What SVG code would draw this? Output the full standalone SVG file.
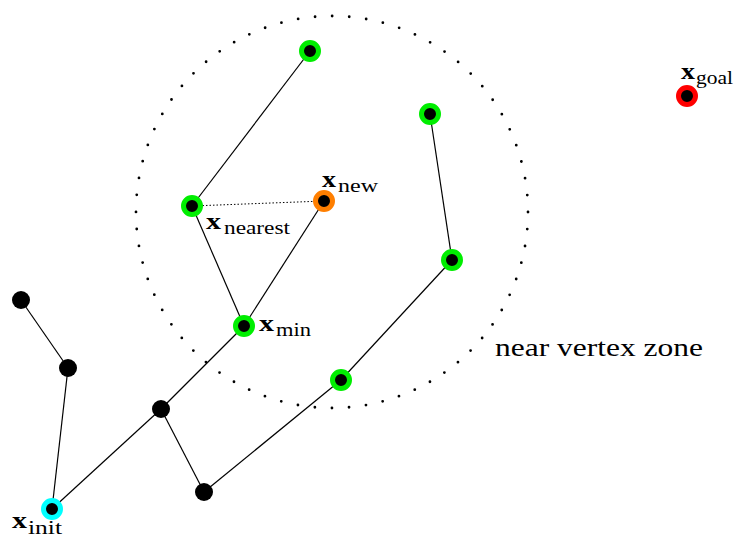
<svg xmlns="http://www.w3.org/2000/svg" width="738" height="540" viewBox="0 0 738 540">
<style>
.e{stroke:#000;stroke-width:1.2;fill:none}
.lx{font-weight:bold;font-size:23px}
.ls{font-weight:normal;font-size:19px}
.t{font-size:25px}
</style>
<rect width="738" height="540" fill="#fff"/>
<circle cx="332" cy="212" r="196" fill="none" stroke="#000" stroke-width="2.8" stroke-linecap="round" stroke-dasharray="0 17.1"/>
<g id="connectors">
<line class="e" x1="310" y1="51" x2="192" y2="206"/>
<line class="e" x1="192" y1="206" x2="244" y2="326"/>
<line class="e" x1="324" y1="201" x2="244" y2="326"/>
<line class="e" x1="244" y1="326" x2="161" y2="409"/>
<line class="e" x1="430" y1="114" x2="452" y2="260"/>
<line class="e" x1="452" y1="260" x2="341" y2="380"/>
<line class="e" x1="341" y1="380" x2="204" y2="492"/>
<line class="e" x1="204" y1="492" x2="161" y2="409"/>
<line class="e" x1="161" y1="409" x2="52" y2="509"/>
<line class="e" x1="52" y1="509" x2="68" y2="368"/>
<line class="e" x1="68" y1="368" x2="21" y2="300"/>
<line x1="192" y1="206" x2="324" y2="201" stroke="#000" stroke-width="1" stroke-dasharray="1.5 2"/>
</g>
<g font-family="'Liberation Serif','Times New Roman','DejaVu Serif',serif">
<g id="nA"><circle cx="310" cy="51" r="8.5" fill="#000" stroke="#00ee00" stroke-width="5"/></g>
<g id="nB"><circle cx="430" cy="114" r="8.5" fill="#000" stroke="#00ee00" stroke-width="5"/></g>
<g id="nGoal"><circle cx="687" cy="96" r="8.5" fill="#000" stroke="#f00" stroke-width="5"/><text class="lx" x="681" y="79" textLength="14" lengthAdjust="spacingAndGlyphs">x</text><text class="ls" x="696" y="84" textLength="37" lengthAdjust="spacingAndGlyphs">goal</text></g>
<g id="nNearest"><circle cx="192" cy="206" r="8.5" fill="#000" stroke="#00ee00" stroke-width="5"/><text class="lx" x="206" y="229" textLength="15" lengthAdjust="spacingAndGlyphs">x</text><text class="ls" x="224" y="234" textLength="66" lengthAdjust="spacingAndGlyphs">nearest</text></g>
<g id="nNew"><circle cx="324" cy="201" r="8.5" fill="#000" stroke="#ff7f00" stroke-width="5"/><text class="lx" x="322" y="187" textLength="14" lengthAdjust="spacingAndGlyphs">x</text><text class="ls" x="338" y="192" textLength="40" lengthAdjust="spacingAndGlyphs">new</text></g>
<g id="nC"><circle cx="452" cy="260" r="8.5" fill="#000" stroke="#00ee00" stroke-width="5"/></g>
<g id="nMin"><circle cx="244" cy="326" r="8.5" fill="#000" stroke="#00ee00" stroke-width="5"/><text class="lx" x="259" y="331" textLength="15" lengthAdjust="spacingAndGlyphs">x</text><text class="ls" x="276" y="336" textLength="35" lengthAdjust="spacingAndGlyphs">min</text></g>
<g id="nD"><circle cx="341" cy="380" r="8.5" fill="#000" stroke="#00ee00" stroke-width="5"/></g>
<g id="nE"><circle cx="21" cy="300" r="9" fill="#000"/></g>
<g id="nF"><circle cx="68" cy="368" r="9" fill="#000"/></g>
<g id="nG"><circle cx="161" cy="409" r="9" fill="#000"/></g>
<g id="nH"><circle cx="204" cy="492" r="9" fill="#000"/></g>
<g id="nInit"><circle cx="52" cy="509" r="8.5" fill="#000" stroke="#00ffff" stroke-width="5"/><text class="lx" x="12" y="528" textLength="15" lengthAdjust="spacingAndGlyphs">x</text><text class="ls" x="28" y="534" textLength="34" lengthAdjust="spacingAndGlyphs">init</text></g>
<text class="t" x="495" y="356" textLength="208" lengthAdjust="spacingAndGlyphs">near vertex zone</text>
</g>
</svg>
